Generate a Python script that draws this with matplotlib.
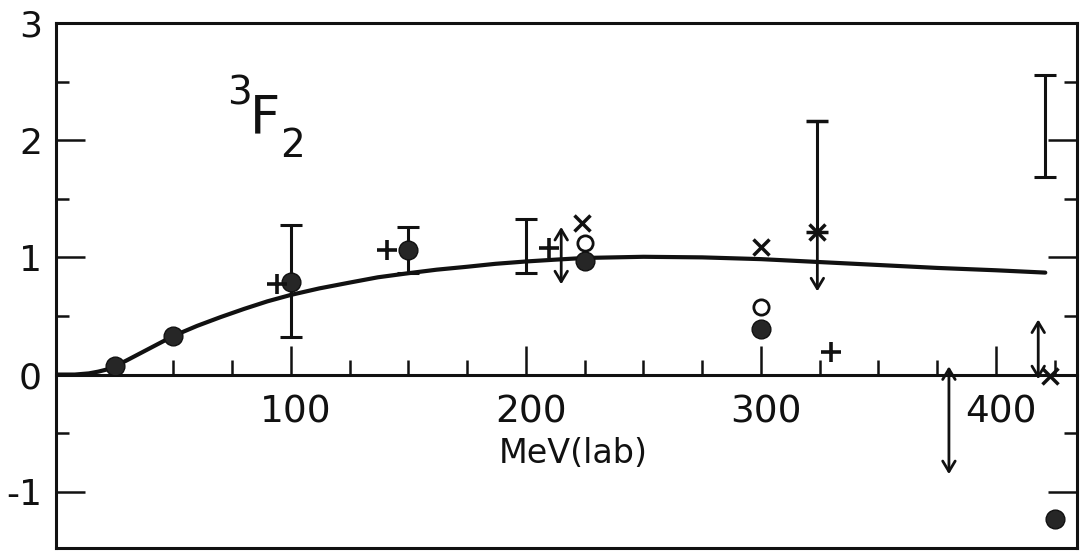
import matplotlib
matplotlib.use('Agg')
import matplotlib.pyplot as plt
from matplotlib.ticker import FixedLocator
from matplotlib.transforms import ScaledTranslation

# ---- data (energy in MeV lab, phase shift) ----
curve_E = [0, 8, 14, 18, 22, 25, 30, 40, 50, 60, 70, 80, 90, 100, 112, 125, 137,
           150, 162, 175, 187, 200, 212, 225, 250, 275, 300, 325, 350, 375, 400, 421]
curve_d = [0, 0, 0.01, 0.025, 0.045, 0.07, 0.12, 0.225, 0.33, 0.415, 0.49, 0.56,
           0.625, 0.68, 0.735, 0.785, 0.83, 0.865, 0.895, 0.92, 0.945, 0.965, 0.98,
           0.995, 1.005, 1.0, 0.985, 0.96, 0.935, 0.91, 0.89, 0.87]

filled_E = [25, 50, 100, 150, 225, 300, 425]
filled_d = [0.07, 0.33, 0.79, 1.06, 0.97, 0.39, -1.23]

# error bars attached to filled circles
fbar_E = [100, 150]
fbar_d = [0.79, 1.06]
fbar_lo = [0.47, 0.19]
fbar_hi = [0.49, 0.20]

open_E = [225, 300]
open_d = [1.12, 0.58]

plus_E = [94, 141, 210, 330]
plus_d = [0.77, 1.06, 1.08, 0.19]

cross_E = [224, 300, 423]
cross_d = [1.29, 1.09, -0.01]

# bare error bars (no central symbol)
bar_E = [200, 421]
bar_lo = [0.87, 1.69]
bar_hi = [1.33, 2.56]

# double-headed arrows
arr_E = [215, 380, 418]
arr_lo = [0.77, -0.85, -0.04]
arr_hi = [1.26, 0.07, 0.47]

# 325 MeV: x mark with upper error bar and a downward arrow
e325_E = 324
e325_mark = 1.22
e325_top = 2.16
e325_arrow = 0.71

x_major = [100, 200, 300, 400]
x_minor = [25, 50, 75, 125, 150, 175, 225, 250, 275, 325, 350, 375, 425]
x_labels = ['100', '200', '300', '400']
y_major = [-1, 0, 1, 2, 3]
y_minor = [-0.5, 0.5, 1.5, 2.5]
y_labels = ['-1', '0', '1', '2', '3']

INK = '#111111'

fig = plt.figure(figsize=(10.81, 5.52), dpi=100)
ax = fig.add_axes([56 / 1081, 4 / 552, 1021 / 1081, 525 / 552])
ax.set_xlim(0, 434.5)
ax.set_ylim(-1.48, 3.0)

for s in ax.spines.values():
    s.set_linewidth(2.2)
    s.set_color(INK)
ax.spines['bottom'].set_position(('data', 0))
# bottom frame line
ax.plot([0, 1], [0, 0], transform=ax.transAxes, color=INK, lw=2.2, clip_on=False)

ax.xaxis.set_major_locator(FixedLocator(x_major))
ax.xaxis.set_minor_locator(FixedLocator(x_minor))
ax.set_xticklabels(x_labels)
ax.yaxis.set_major_locator(FixedLocator(y_major))
ax.yaxis.set_minor_locator(FixedLocator(y_minor))
ax.set_yticklabels(y_labels)

ax.tick_params(axis='x', which='major', direction='in', length=21, width=1.8,
               color=INK, labelsize=27, pad=14, labelcolor=INK)
ax.tick_params(axis='x', which='minor', direction='in', length=11, width=1.8, color=INK)
ax.tick_params(axis='y', which='major', direction='in', length=21, width=1.8,
               color=INK, labelsize=26, pad=10, left=True, right=True, labelcolor=INK)
ax.tick_params(axis='y', which='minor', direction='in', length=9.5, width=1.8,
               color=INK, left=True, right=True)
for lab in ax.get_xticklabels():
    lab.set_transform(lab.get_transform() + ScaledTranslation(0.05, 0, fig.dpi_scale_trans))

# theory curve
ax.plot(curve_E, curve_d, color=INK, lw=3.0, solid_capstyle='round',
        solid_joinstyle='round', zorder=3)

# error bars
ax.errorbar(fbar_E, fbar_d, yerr=[fbar_lo, fbar_hi], fmt='none', ecolor=INK,
            elinewidth=2.2, capsize=8, capthick=2.2, zorder=3)
bar_mid = [(lo + hi) / 2 for lo, hi in zip(bar_lo, bar_hi)]
bar_half = [(hi - lo) / 2 for lo, hi in zip(bar_lo, bar_hi)]
ax.errorbar(bar_E, bar_mid, yerr=bar_half, fmt='none', ecolor=INK,
            elinewidth=2.2, capsize=8, capthick=2.2, zorder=3)
ax.errorbar([e325_E], [e325_mark], yerr=[[0], [e325_top - e325_mark]], fmt='x',
            color=INK, ms=12, mew=2.5, ecolor=INK, elinewidth=2.2, capsize=8,
            capthick=2.2, zorder=3)

# arrows
for e, lo, hi in zip(arr_E, arr_lo, arr_hi):
    ax.annotate('', xy=(e, hi), xytext=(e, lo),
                arrowprops=dict(arrowstyle='<->,head_length=0.5,head_width=0.3',
                                color=INK, lw=2.0, shrinkA=0, shrinkB=0,
                                mutation_scale=15), zorder=3)
ax.annotate('', xy=(e325_E, e325_arrow), xytext=(e325_E, e325_mark),
            arrowprops=dict(arrowstyle='->,head_length=0.5,head_width=0.3',
                            color=INK, lw=2.0, shrinkA=0, shrinkB=0,
                            mutation_scale=15), zorder=3)

# symbols
ax.plot(filled_E, filled_d, 'o', color='#262626', ms=13.5, mec=INK, mew=1.0,
        zorder=4, clip_on=False)
ax.plot(open_E, open_d, 'o', mfc='white', mec=INK, ms=11, mew=2.0, zorder=4)
ax.plot(plus_E, plus_d, '+', color=INK, ms=15, mew=2.6, zorder=4)
ax.plot(cross_E, cross_d, 'x', color=INK, ms=12, mew=2.5, zorder=4)

# labels
ax.text(220, -0.67, 'MeV(lab)', fontsize=24, ha='center', va='center', color=INK)
ax.text(78.0, 2.40, '3', fontsize=28, ha='center', va='center', color=INK)
ax.text(89.0, 2.19, 'F', fontsize=38, ha='center', va='center', color=INK)
ax.text(100.5, 1.95, '2', fontsize=28, ha='center', va='center', color=INK)

fig.savefig('out.png', dpi=100, facecolor='white')
